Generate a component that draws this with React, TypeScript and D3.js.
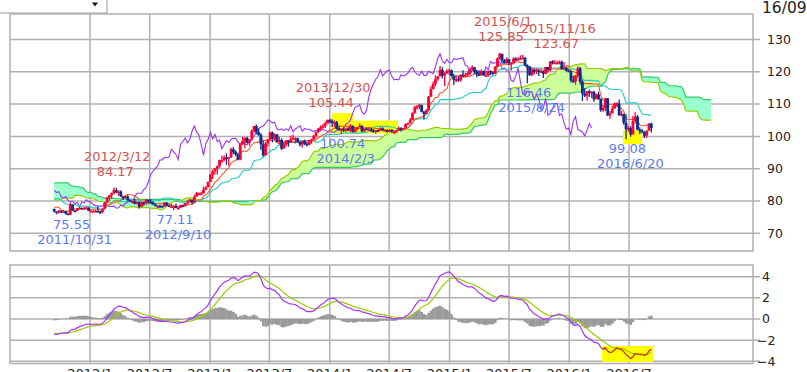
import React from "react";
import * as d3 from "d3";

// Weekly USD/JPY data, first week starts Monday 2010-03-01
const FIRST_WEEK = "2010-03-01";
const VISIBLE_FROM = "2011-09-12";

const high: number[] = [
  // 2010
  89.9, 90.9, 90.9, 92.9, 94.7, 94.7, 93.7, 94.2, 94.9, 94.9, 93.6, 93.0, 91.4, 92.6, 92.3, 92.1, 91.4, 89.4,
  88.9, 89.1, 87.4, 88.1, 86.6, 86.4, 85.7, 85.4, 85.2, 84.4, 85.9, 85.7, 84.5, 83.4, 82.0, 81.7, 81.6,
  81.7, 82.7, 83.7, 84.4, 84.4, 84.2, 84.5, 84.0, 83.1,
  // 2011
  83.5, 83.5, 83.2, 83.2, 82.3, 83.7, 83.9, 83.4, 83.0, 83.2, 82.0, 81.6, 84.3, 85.5, 85.2, 83.2, 82.6,
  81.5, 81.3, 82.2, 82.2, 81.6, 80.5, 81.1, 80.9, 81.0, 81.3, 80.8, 79.6, 78.6, 80.2, 78.5, 76.9, 77.2, 77.0,
  77.8, 77.3, 76.8, 77.2, 77.0, 77.3, 77.0, 76.3, 79.5, 78.2, 77.2, 77.8, 78.2, 77.9, 78.2, 78.3, 78.0,
  // 2012
  77.2, 77.2, 77.3, 78.3, 76.9, 77.7, 79.7, 81.2, 81.9, 82.6, 84.17, 84.1, 83.3, 83.3, 81.6, 81.8, 81.8, 80.3,
  80.2, 80.7, 79.9, 79.9, 79.7, 79.6, 80.6, 80.4, 80.6, 79.9, 79.3, 78.7, 78.8, 78.6, 79.6, 79.6, 78.8,
  79.1, 78.6, 79.2, 78.2, 78.9, 78.9, 79.4, 80.4, 80.7, 80.5, 81.9, 82.8, 82.6, 82.8, 84.5, 84.6, 86.0, 88.4,
  // 2013
  89.7, 90.2, 91.0, 92.8, 94.1, 94.2, 94.8, 93.6, 96.6, 96.7, 95.7, 94.9, 97.9, 99.9, 99.7, 99.9, 99.2,
  102.2, 103.3, 103.7, 102.5, 101.0, 98.7, 98.3, 99.2, 101.5, 101.5, 100.9, 100.8, 99.9, 99.4, 98.5, 98.8, 98.9,
  100.2, 100.6, 99.7, 99.6, 98.4, 98.6, 99.0, 98.3, 98.9, 99.2, 100.4, 101.5, 102.6, 103.4, 103.9, 104.6, 105.2, 105.44,
  // 2014
  105.3, 104.9, 104.8, 103.2, 102.6, 102.8, 102.7, 102.8, 103.8, 103.4, 102.9, 102.9, 104.1, 103.4, 102.5, 102.7, 102.8,
  102.7, 102.3, 101.8, 102.1, 102.8, 102.8, 102.3, 102.1, 102.3, 102.2, 101.7, 101.9, 103.1, 102.8, 102.6, 104.0, 104.2,
  105.7, 107.4, 109.5, 109.7, 110.1, 109.2, 107.9, 108.4, 112.5, 115.5, 117.0, 118.9, 118.6, 121.8, 121.4, 119.9, 120.8, 121.0,
  // 2015
  120.7, 119.3, 118.9, 118.6, 119.2, 120.5, 119.6, 120.1, 121.3, 122.0, 121.5, 120.3, 120.4, 120.8, 120.3, 120.1, 120.3,
  120.5, 120.0, 121.8, 124.5, 125.85, 125.3, 124.0, 124.5, 123.8, 123.0, 124.5, 124.5, 124.6, 125.1, 125.3, 124.6, 122.3, 121.7,
  121.3, 121.0, 121.0, 120.8, 120.7, 120.3, 121.5, 121.5, 123.3, 123.6, 123.67, 123.4, 123.5, 123.5, 123.0, 121.5, 120.8,
  // 2016
  120.5, 118.8, 119.0, 121.7, 121.5, 117.5, 114.9, 114.0, 114.5, 114.0, 114.1, 113.3, 113.8, 111.8, 109.7, 111.9, 111.9,
  107.9, 109.4, 110.5, 110.6, 111.4, 107.9, 106.8, 106.8, 103.3, 103.1, 106.3, 107.5, 106.6, 102.8, 102.3, 101.6, 101.9, 104.1,
  104.2,
];

const low: number[] = [
  // 2010
  88.1, 88.6, 89.6, 89.9, 92.3, 92.6, 92.0, 91.7, 92.8, 87.9, 90.2, 88.9, 88.9, 90.9, 90.9, 90.4, 88.9, 86.9,
  87.4, 86.4, 86.3, 85.9, 85.0, 84.7, 84.9, 83.6, 83.9, 83.2, 82.9, 84.1, 83.1, 81.7, 80.9, 80.8, 80.4,
  80.2, 80.8, 82.6, 82.8, 82.4, 82.5, 83.1, 82.6, 81.1,
  // 2011
  81.2, 82.2, 81.9, 82.1, 81.1, 82.0, 83.1, 81.6, 81.6, 81.7, 76.3, 80.4, 81.2, 83.9, 83.3, 81.6, 81.0,
  79.6, 80.1, 80.9, 80.5, 80.0, 79.7, 80.0, 79.9, 80.4, 80.4, 78.5, 78.1, 76.6, 76.3, 76.3, 75.9, 76.4, 76.5,
  76.8, 76.5, 75.9, 76.1, 76.3, 76.5, 75.8, 75.6, 75.55, 77.0, 76.6, 76.8, 77.5, 77.4, 77.6, 77.8, 76.9,
  // 2012
  76.6, 76.6, 76.6, 76.6, 76.0, 76.2, 77.4, 79.2, 80.0, 80.6, 82.1, 82.5, 81.6, 81.2, 80.3, 80.7, 80.0, 79.7,
  79.5, 79.0, 79.0, 77.7, 78.1, 78.5, 78.8, 79.3, 79.5, 78.9, 78.3, 77.8, 77.9, 78.1, 78.3, 78.4, 78.2,
  78.2, 77.11, 77.8, 77.4, 77.9, 78.1, 78.5, 79.3, 79.5, 79.1, 79.3, 81.6, 81.7, 81.7, 82.3, 83.4, 84.4, 85.9,
  // 2013
  86.8, 88.2, 88.1, 90.3, 91.8, 92.3, 91.2, 90.9, 93.3, 94.5, 93.9, 92.6, 92.6, 97.3, 96.3, 97.9, 97.1,
  98.8, 101.2, 100.7, 100.2, 95.9, 93.8, 94.2, 96.9, 98.9, 98.2, 98.8, 98.1, 97.5, 95.8, 96.3, 96.9, 96.8,
  98.0, 98.9, 97.8, 98.1, 96.9, 96.6, 97.3, 96.9, 97.2, 97.7, 98.8, 99.7, 101.1, 101.6, 102.4, 102.6, 104.0, 104.1,
  // 2014
  102.9, 102.9, 102.2, 101.8, 100.74, 101.3, 101.4, 101.7, 101.3, 101.2, 101.2, 101.9, 102.8, 101.3, 101.4, 102.0, 102.0,
  101.4, 101.1, 100.8, 101.4, 101.7, 101.8, 101.7, 101.2, 101.3, 101.1, 101.0, 101.1, 101.7, 101.5, 101.9, 102.4, 103.6,
  104.0, 105.0, 107.0, 108.3, 108.4, 107.5, 105.2, 106.9, 107.8, 112.2, 114.6, 115.5, 117.2, 118.6, 117.9, 115.6, 119.3, 119.0,
  // 2015
  118.6, 115.9, 116.8, 116.9, 116.9, 118.3, 118.2, 118.6, 119.5, 120.5, 119.3, 118.3, 118.7, 118.9, 118.8, 118.5, 118.5,
  118.9, 118.9, 119.3, 121.5, 123.7, 122.5, 122.5, 122.6, 122.1, 120.4, 122.6, 123.2, 123.4, 123.8, 124.0, 121.7, 116.46, 118.7,
  118.6, 119.2, 119.3, 118.7, 119.6, 118.1, 119.3, 120.1, 120.2, 122.3, 122.5, 122.3, 122.3, 120.6, 120.8, 120.1, 120.2,
  // 2016
  116.7, 116.5, 115.98, 118.2, 116.1, 110.99, 112.2, 111.0, 112.2, 111.9, 110.7, 111.5, 111.3, 107.6, 107.6, 107.9, 106.3,
  105.5, 107.7, 108.7, 109.2, 106.5, 106.2, 103.6, 99.08, 101.5, 99.9, 100.7, 104.0, 101.9, 100.7, 101.0, 99.5, 99.6, 101.8,
  101.2,
];

const close: number[] = [
  // 2010
  88.6, 90.5, 90.6, 92.5, 94.1, 93.2, 92.2, 94.1, 94.8, 91.6, 92.3, 90.0, 91.2, 91.8, 91.7, 90.8, 89.2, 87.7,
  88.6, 86.6, 86.9, 86.4, 85.4, 85.6, 85.4, 85.2, 84.2, 83.8, 85.8, 84.3, 83.3, 81.9, 81.4, 81.4, 80.4,
  81.2, 82.5, 83.5, 84.2, 82.6, 83.9, 84.0, 82.9, 81.2,
  // 2011
  83.0, 82.6, 82.5, 82.1, 82.2, 83.4, 83.1, 81.7, 82.4, 81.9, 80.6, 81.5, 84.1, 84.8, 83.4, 81.8, 81.2,
  80.6, 81.0, 81.7, 80.7, 80.1, 80.3, 80.0, 80.4, 80.8, 80.6, 79.2, 78.5, 76.7, 78.4, 76.8, 76.5, 76.6, 76.8,
  77.6, 76.7, 76.4, 77.0, 76.7, 76.8, 76.1, 75.8, 78.9, 77.0, 76.9, 77.7, 77.9, 77.6, 77.8, 78.0, 76.9,
  // 2012
  76.9, 76.9, 76.9, 76.7, 76.6, 77.6, 79.5, 81.1, 81.8, 82.4, 83.4, 82.6, 82.9, 81.4, 80.9, 81.4, 80.2, 79.7,
  79.9, 79.1, 79.6, 78.2, 79.6, 79.4, 80.4, 79.8, 79.6, 78.9, 78.5, 78.5, 78.4, 78.3, 79.5, 78.7, 78.3,
  78.3, 78.4, 77.8, 77.9, 78.7, 78.5, 79.3, 79.6, 80.4, 79.5, 81.3, 82.4, 82.4, 82.4, 83.5, 84.2, 85.9, 88.2,
  // 2013
  89.2, 90.1, 90.8, 92.7, 92.7, 93.5, 93.4, 93.6, 96.0, 95.2, 94.4, 92.8, 97.6, 98.4, 99.5, 98.0, 99.0,
  101.6, 103.2, 101.3, 100.4, 97.5, 94.1, 97.8, 99.1, 101.2, 99.2, 100.6, 98.3, 98.9, 96.2, 97.5, 98.7, 98.1,
  99.1, 99.4, 99.4, 98.3, 97.5, 98.6, 97.7, 97.4, 98.7, 99.1, 100.2, 101.3, 102.4, 102.9, 103.2, 104.0, 105.1, 104.8,
  // 2014
  104.2, 104.4, 102.3, 102.0, 102.3, 101.8, 102.4, 101.8, 103.3, 101.4, 102.3, 102.8, 103.3, 101.6, 102.4, 102.2, 102.2,
  101.8, 101.5, 101.9, 101.8, 102.5, 102.0, 102.0, 101.4, 102.0, 101.3, 101.3, 101.8, 102.6, 102.0, 102.5, 103.8, 104.1,
  105.1, 107.3, 109.0, 109.3, 109.8, 107.6, 106.9, 108.1, 112.3, 114.6, 116.3, 117.7, 118.6, 120.6, 118.8, 119.5, 120.3, 120.5,
  // 2015
  118.6, 117.5, 117.7, 117.5, 119.1, 118.7, 119.0, 119.6, 120.8, 121.4, 120.0, 119.2, 118.9, 120.2, 118.9, 118.9, 120.2,
  119.8, 119.4, 121.5, 124.1, 125.6, 123.4, 122.6, 123.9, 122.8, 122.8, 124.1, 123.8, 124.0, 124.2, 124.3, 122.0, 121.7, 119.0,
  120.6, 120.0, 120.5, 119.9, 120.2, 119.4, 121.5, 120.6, 123.2, 122.6, 122.8, 122.8, 123.1, 120.9, 121.2, 120.3, 120.2,
  // 2016
  117.3, 117.0, 118.8, 121.1, 116.9, 113.2, 112.6, 114.0, 113.8, 113.8, 111.5, 113.0, 111.6, 108.1, 108.8, 111.8, 106.5,
  107.1, 108.6, 110.2, 110.2, 106.5, 107.0, 104.2, 102.2, 102.6, 100.6, 104.8, 106.1, 102.1, 101.8, 101.3, 100.2, 101.8, 104.0,
  102.6,
];

const yTicks = [70, 80, 90, 100, 110, 120, 130];
const macdTicks = [-4, -2, 0, 2, 4];
const xTickDates = ["2012-01-01", "2012-07-01", "2013-01-01", "2013-07-01", "2014-01-01", "2014-07-01", "2015-01-01", "2015-07-01", "2016-01-01", "2016-07-01"];
const xTickLabels = ["2012/1", "2012/7", "2013/1", "2013/7", "2014/1", "2014/7", "2015/1", "2015/7", "2016/1", "2016/7"];

const highMarks: [string, number][] = [["2012-03-12", 84.17], ["2013-12-30", 105.44], ["2015-06-01", 125.85], ["2015-11-16", 123.67]];
const lowMarks: [string, number][] = [["2011-10-31", 75.55], ["2012-09-10", 77.11], ["2014-02-03", 100.74], ["2015-08-24", 116.46], ["2016-06-20", 99.08]];

// yellow highlight zones: [from, to, low, high]
const priceZones: [string, string, number, number][] = [
  ["2014-01-08", "2014-03-13", 100.9, 107.2],
  ["2014-03-13", "2014-07-28", 100.9, 104.9],
  ["2016-06-13", "2016-08-10", 97.6, 101.9],
];
const macdZones: [string, string, number, number][] = [["2016-04-10", "2016-09-12", -4.06, -2.55]];
const macdRedFrom = "2016-04-18";

const DAY = 864e5;
const WEEK = 7 * DAY;
const FONT = "DejaVu Sans, sans-serif";

function ema(v: number[], n: number) {
  const k = 2 / (n + 1);
  const out: number[] = [];
  v.forEach((x, i) => out.push(i === 0 ? x : x * k + out[i - 1] * (1 - k)));
  return out;
}

function fmtDate(s: string) {
  const [a, b, c] = s.split("-").map(Number);
  return `${a}/${b}/${c}`;
}

export default function App() {
  const W = 807, H = 372;
  const L = 10, R = 753, T1 = 14, B1 = 251, T2 = 265, B2 = 363.5;
  const x = d3.scaleUtc().domain([Date.parse("2012-01-01"), Date.parse("2016-07-01")]).range([90, 629]);
  const y = d3.scaleLinear().domain([70, 130]).range([233.3, 39.5]);
  const ym = d3.scaleLinear().domain([-4, 4]).range([361.3, 276.7]);

  const t0 = Date.parse(FIRST_WEEK);
  const n = close.length;
  const tw = (i: number) => t0 + i * WEEK; // Monday
  const tc = (i: number) => tw(i) + 2 * DAY; // mid-week position
  const vis = Math.round((Date.parse(VISIBLE_FROM) - t0) / WEEK);
  const open = close.map((c, i) => (i === 0 ? c : close[i - 1]));
  const hh = (i: number, p: number) => d3.max(high.slice(Math.max(0, i - p + 1), i + 1)) as number;
  const ll = (i: number, p: number) => d3.min(low.slice(Math.max(0, i - p + 1), i + 1)) as number;
  const tenkan = close.map((_, i) => (hh(i, 9) + ll(i, 9)) / 2);
  const kijun = close.map((_, i) => (hh(i, 26) + ll(i, 26)) / 2);
  const spanA = close.map((_, i) => (tenkan[i] + kijun[i]) / 2);
  const spanB = close.map((_, i) => (hh(i, 52) + ll(i, 52)) / 2);

  const idx = d3.range(vis, n);
  const line = d3.line<[number, number]>().x((d) => d[0]).y((d) => d[1]);

  // cloud points (shifted 26 weeks ahead), with crossings inserted
  const cloudRaw = d3.range(vis - 26, n).map((i) => ({ t: tc(i + 26), a: spanA[i], b: spanB[i] }));
  const cloud: { t: number; a: number; b: number }[] = [];
  cloudRaw.forEach((p, k) => {
    if (k > 0) {
      const q = cloudRaw[k - 1];
      const d0 = q.a - q.b, d1 = p.a - p.b;
      if (d0 * d1 < 0) {
        const f = d0 / (d0 - d1);
        const v = q.a + (p.a - q.a) * f;
        cloud.push({ t: q.t + (p.t - q.t) * f, a: v, b: v });
      }
    }
    cloud.push(p);
  });
  const areaBull = d3.area<typeof cloud[0]>().x((d) => x(d.t)).y0((d) => y(d.b)).y1((d) => y(Math.max(d.a, d.b)));
  const areaBear = d3.area<typeof cloud[0]>().x((d) => x(d.t)).y0((d) => y(d.a)).y1((d) => y(Math.max(d.a, d.b)));

  const chikou = d3.range(vis + 26, n).map((i) => [x(tc(i - 26)), y(close[i])] as [number, number]);

  const e12 = ema(close, 12), e26 = ema(close, 26);
  const macd = close.map((_, i) => e12[i] - e26[i]);
  const signal = ema(macd, 9);
  const hist = macd.map((m, i) => m - signal[i]);
  const redT = Date.parse(macdRedFrom);
  const macdMain = idx.filter((i) => tw(i) <= redT).map((i) => [x(tc(i)), ym(macd[i])] as [number, number]);
  const macdRed = idx.filter((i) => tw(i) >= redT - WEEK).map((i) => [x(tc(i)), ym(macd[i])] as [number, number]);
  const step = x(tw(1)) - x(tw(0));

  const redText = "#d65252";
  const blueText = "#5b7cf2";
  const gridColor = "#b0b0b0";

  return (
    <svg width={W} height={H} style={{ position: "absolute", left: 0, top: 0, background: "#fff" }} fontFamily={FONT}>
      <defs>
        <clipPath id="clipMain"><rect x={L} y={T1} width={R - L} height={B1 - T1} /></clipPath>
        <clipPath id="clipMacd"><rect x={L} y={T2} width={R - L} height={B2 - T2} /></clipPath>
      </defs>
      <rect x={0} y={0} width={W} height={H} fill="#fff" />

      {/* dropdown box top-left */}
      <rect x={-1} y={-1} width={108} height={14} fill="#fff" stroke="#999" />
      <path d="M92,2.5 L98,2.5 L95,6.5 Z" fill="#111" />
      <text x={762} y={12.5} fontSize={15.5} fill="#222">16/09/</text>

      {/* main panel grid */}
      <rect x={L} y={T1} width={R - L} height={B1 - T1} fill="#fff" stroke={gridColor} strokeWidth={1.5} />
      {yTicks.map((v) => (
        <g key={v}>
          <line x1={L} x2={R + 7} y1={y(v)} y2={y(v)} stroke={gridColor} strokeWidth={1.5} />
          <text x={767} y={y(v)} dy="0.35em" fontSize={12.5} fill="#222">{v}</text>
        </g>
      ))}
      {xTickDates.map((d) => (
        <line key={d} x1={x(Date.parse(d))} x2={x(Date.parse(d))} y1={T1} y2={B1} stroke={gridColor} strokeWidth={1.5} />
      ))}

      <g clipPath="url(#clipMain)">
        <path d={areaBull(cloud) || ""} fill="#ccff99" />
        <path d={areaBear(cloud) || ""} fill="#99ffcc" />
        <path d={line(cloud.map((d) => [x(d.t), y(d.b)])) || ""} fill="none" stroke="#33cc66" strokeWidth={1.2} />
        <path d={line(cloud.map((d) => [x(d.t), y(d.a)])) || ""} fill="none" stroke="#99cc00" strokeWidth={1.2} />
        {priceZones.map(([a, b, lo, hi], k) => (
          <rect key={k} x={x(Date.parse(a))} width={x(Date.parse(b)) - x(Date.parse(a))} y={y(hi)} height={y(lo) - y(hi)} fill="#ffff00" />
        ))}
        <path d={line(chikou) || ""} fill="none" stroke="#9933ff" strokeWidth={1.1} />
        <path d={line(idx.map((i) => [x(tc(i)), y(kijun[i])])) || ""} fill="none" stroke="#22cccc" strokeWidth={1.1} />
        <path d={line(idx.map((i) => [x(tc(i)), y(tenkan[i])])) || ""} fill="none" stroke="#ff5522" strokeWidth={1.1} />
        {idx.map((i) => {
          const up = close[i] >= open[i];
          const c = up ? "#ff0033" : "#0a2d8f";
          const cx = x(tc(i));
          const yt = y(Math.max(open[i], close[i]));
          const yb = y(Math.min(open[i], close[i]));
          return (
            <g key={i}>
              <line x1={cx} x2={cx} y1={y(high[i])} y2={y(low[i])} stroke={c} strokeWidth={1.3} />
              <rect x={cx - 1.4} width={2.8} y={yt} height={Math.max(1.5, yb - yt)} fill={c} />
            </g>
          );
        })}
      </g>

      {highMarks.map(([d, v]) => {
        const px = x(Date.parse(d));
        const py = y(v);
        return (
          <g key={d} fill={redText} fontSize={13} textAnchor="middle">
            <text x={px + 4} y={py - 26.5}>{fmtDate(d)}</text>
            <text x={px + 2} y={py - 11.5}>{v.toFixed(2)}</text>
          </g>
        );
      })}
      {lowMarks.map(([d, v]) => {
        const px = x(Date.parse(d));
        const py = y(v);
        return (
          <g key={d} fill={blueText} fontSize={13} textAnchor="middle">
            <text x={px + 2} y={py + 13.5}>{v.toFixed(2)}</text>
            <text x={px + 5} y={py + 28.5}>{fmtDate(d)}</text>
          </g>
        );
      })}

      {/* MACD panel */}
      <rect x={L} y={T2} width={R - L} height={B2 - T2} fill="#fff" stroke={gridColor} strokeWidth={1.5} />
      {macdTicks.map((v) => (
        <g key={v}>
          <line x1={L} x2={R + 7} y1={ym(v)} y2={ym(v)} stroke={gridColor} strokeWidth={1.5} />
          <text x={v < 0 ? 757 : 762} y={ym(v)} dy="0.35em" fontSize={12.5} fill="#222">{v < 0 ? `\u2212${-v}` : v}</text>
        </g>
      ))}
      {xTickDates.map((d, k) => (
        <g key={d}>
          <line x1={x(Date.parse(d))} x2={x(Date.parse(d))} y1={T2} y2={B2} stroke={gridColor} strokeWidth={1.5} />
          <text x={x(Date.parse(d))} y={377.5} fontSize={13} fill="#222" textAnchor="middle">{xTickLabels[k]}</text>
        </g>
      ))}
      <g clipPath="url(#clipMacd)">
        {macdZones.map(([a, b, lo, hi], k) => (
          <rect key={k} x={x(Date.parse(a))} width={x(Date.parse(b)) - x(Date.parse(a))} y={ym(hi)} height={ym(lo) - ym(hi)} fill="#ffff00" />
        ))}
        {idx.map((i) => {
          const y0 = ym(0), y1 = ym(hist[i]);
          return <rect key={i} x={x(tc(i)) - step / 2} width={step + 0.2} y={Math.min(y0, y1)} height={Math.abs(y1 - y0)} fill="#999999" />;
        })}
        <path d={line(idx.map((i) => [x(tc(i)), ym(signal[i])])) || ""} fill="none" stroke="#99cc00" strokeWidth={1.2} />
        <path d={line(macdMain) || ""} fill="none" stroke="#aa33ff" strokeWidth={1.2} />
        <path d={line(macdRed) || ""} fill="none" stroke="#cc2200" strokeWidth={1.2} />
      </g>
    </svg>
  );
}
